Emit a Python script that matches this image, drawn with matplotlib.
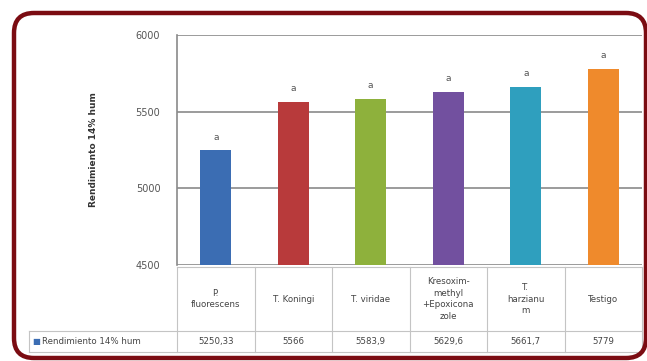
import matplotlib
matplotlib.use("Agg")
import matplotlib.pyplot as plt
import matplotlib.transforms as mtransforms
from matplotlib.patches import FancyBboxPatch

# data
categories = ["P.\nfluorescens", "T. Koningi", "T. viridae",
              "Kresoxim-\nmethyl\n+Epoxicona\nzole", "T.\nharzianu\nm", "Testigo"]
values = [5250.33, 5566, 5583.9, 5629.6, 5661.7, 5779]
letters = ["a", "a", "a", "a", "a", "a"]
colors = ["#3b6db3", "#b83a3b", "#8eb13c", "#72509f", "#2f9fbe", "#ef8a2c"]
series_name = "Rendimiento 14% hum"

W, H = 647, 361
fig = plt.figure(figsize=(W / 100, H / 100), dpi=100)
fig.patch.set_facecolor("white")

# plot area in pixel terms
left, right, top, bottom = 177, 642, 35, 265
ax = fig.add_axes([left / W, 1 - bottom / H, (right - left) / W, (bottom - top) / H])

x = list(range(len(values)))
ax.bar(x, values, width=0.4, color=colors, zorder=3)
for i, (v, t) in enumerate(zip(values, letters)):
    ax.text(i, v + 55, t, ha="center", va="bottom", fontsize=6.5, color="#555555")

ax.set_ylim(4500, 6000)
ax.set_xlim(-0.5, len(values) - 0.5)
ax.set_yticks([4500, 5000, 5500, 6000])
ax.set_xticks([])
ax.tick_params(axis="y", length=0, labelsize=7, labelcolor="#555555", pad=12)
ax.yaxis.grid(True, color="#8a8a8a", linewidth=1.2, zorder=0)
for s in ["top", "right", "bottom"]:
    ax.spines[s].set_visible(False)
ax.spines["left"].set_color("#8a8a8a")
ax.spines["left"].set_linewidth(1.2)

ax.set_ylabel("Rendimiento 14% hum", fontsize=6.5, fontweight="bold", color="#333333")
ax.yaxis.set_label_coords((98 - left) / (right - left), 0.5)

# data table below the chart (y in axes fraction, x in data units)
def ay(py):
    return (bottom - py) / (bottom - top)

tab_top, tab_mid, tab_bot = ay(267), ay(331), ay(352)
lab_left = -0.5 - (left - 29) / ((right - left) / len(values))
btr = mtransforms.blended_transform_factory(ax.transData, ax.transAxes)
grid_kw = dict(color="#c4c4c4", linewidth=0.8, transform=btr, clip_on=False)

n = len(values)
ax.plot([-0.5, n - 0.5], [tab_top, tab_top], **grid_kw)
ax.plot([lab_left, n - 0.5], [tab_mid, tab_mid], **grid_kw)
ax.plot([lab_left, n - 0.5], [tab_bot, tab_bot], **grid_kw)
ax.plot([lab_left, lab_left], [tab_mid, tab_bot], **grid_kw)
for k in range(n + 1):
    ax.plot([k - 0.5, k - 0.5], [tab_top, tab_bot], **grid_kw)

val_text = [f"{v:g}".replace(".", ",") for v in values]
for i in x:
    ax.text(i, (tab_top + tab_mid) / 2, categories[i], transform=btr,
            ha="center", va="center", fontsize=6.2, color="#444444",
            linespacing=1.35, clip_on=False)
    ax.text(i, (tab_mid + tab_bot) / 2, val_text[i], transform=btr,
            ha="center", va="center", fontsize=6.2, color="#444444", clip_on=False)

ax.text(lab_left + 0.04, (tab_mid + tab_bot) / 2, "■", transform=btr,
        ha="left", va="center", fontsize=6, color=colors[0], clip_on=False)
ax.text(lab_left + 0.17, (tab_mid + tab_bot) / 2, series_name, transform=btr,
        ha="left", va="center", fontsize=6.2, color="#444444", clip_on=False)

# rounded dark red frame
frame = FancyBboxPatch((14 / 100, (H - 358) / 100), (646 - 14) / 100, (358 - 13) / 100,
                       boxstyle="round,pad=0,rounding_size=0.2",
                       transform=fig.dpi_scale_trans, fill=False,
                       edgecolor="#7b0c12", linewidth=3.2, clip_on=False)
fig.patches.append(frame)

fig.savefig("out.png", dpi=100)
